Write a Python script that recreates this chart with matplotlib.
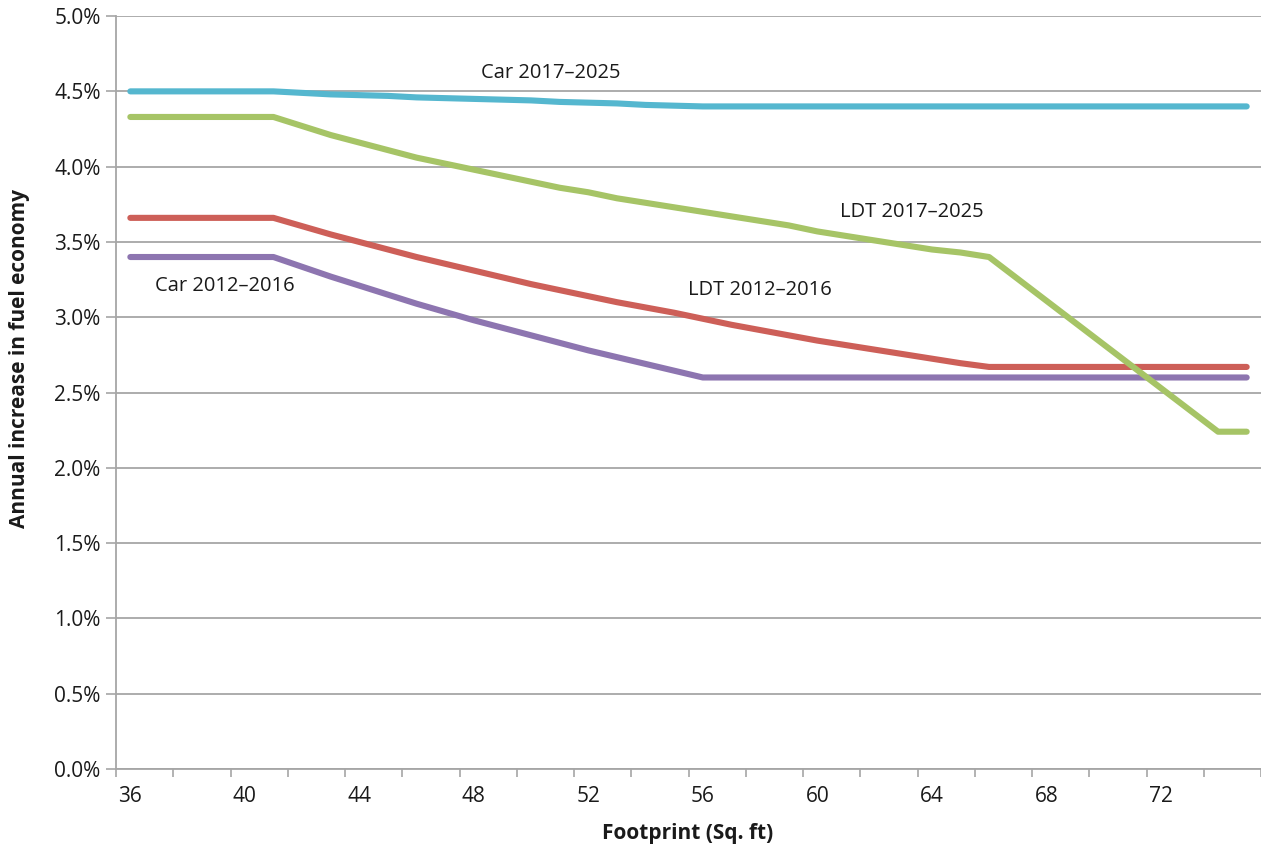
import matplotlib
matplotlib.use("Agg")
import matplotlib.pyplot as plt
import numpy as np
from matplotlib.ticker import FuncFormatter, FixedLocator

# footprint categories (sq ft)
footprint = list(range(36, 76))

car_2017_2025 = [4.50, 4.50, 4.50, 4.50, 4.50, 4.50, 4.49, 4.48, 4.475, 4.47,
                 4.46, 4.455, 4.45, 4.445, 4.44, 4.43, 4.425, 4.42, 4.41, 4.405,
                 4.40, 4.40, 4.40, 4.40, 4.40, 4.40, 4.40, 4.40, 4.40, 4.40,
                 4.40, 4.40, 4.40, 4.40, 4.40, 4.40, 4.40, 4.40, 4.40, 4.40]

ldt_2017_2025 = [4.33, 4.33, 4.33, 4.33, 4.33, 4.33, 4.27, 4.21, 4.16, 4.11,
                 4.06, 4.02, 3.98, 3.94, 3.90, 3.86, 3.83, 3.79, 3.76, 3.73,
                 3.70, 3.67, 3.64, 3.61, 3.57, 3.54, 3.51, 3.48, 3.45, 3.43,
                 3.40, 3.255, 3.11, 2.965, 2.82, 2.675, 2.53, 2.385, 2.24, 2.24]

ldt_2012_2016 = [3.66, 3.66, 3.66, 3.66, 3.66, 3.66, 3.605, 3.55, 3.50, 3.45,
                 3.40, 3.355, 3.31, 3.265, 3.22, 3.18, 3.14, 3.10, 3.065, 3.03,
                 2.99, 2.95, 2.915, 2.88, 2.845, 2.815, 2.785, 2.755, 2.725, 2.695,
                 2.67, 2.67, 2.67, 2.67, 2.67, 2.67, 2.67, 2.67, 2.67, 2.67]

car_2012_2016 = [3.40, 3.40, 3.40, 3.40, 3.40, 3.40, 3.335, 3.27, 3.21, 3.15,
                 3.09, 3.035, 2.98, 2.93, 2.88, 2.83, 2.78, 2.735, 2.69, 2.645,
                 2.60, 2.60, 2.60, 2.60, 2.60, 2.60, 2.60, 2.60, 2.60, 2.60,
                 2.60, 2.60, 2.60, 2.60, 2.60, 2.60, 2.60, 2.60, 2.60, 2.60]

x_labels = [36, 40, 44, 48, 52, 56, 60, 64, 68, 72]

plt.rcParams['font.family'] = ['Open Sans', 'DejaVu Sans']

fig = plt.figure(figsize=(12.61, 8.46), dpi=100)
ax = fig.add_axes([0.092, 0.091, 0.908, 0.890])

# grid first so lines sit on top
ax.set_ylim(0, 5.0)
ax.set_xlim(35.5, 75.5)
ax.set_yticks(np.arange(0, 5.01, 0.5))
ax.yaxis.grid(True, color='#a6a6a6', linewidth=1.3)
ax.set_axisbelow(True)

ax.plot(footprint, ldt_2012_2016, color='#cd5f58', lw=4.4, solid_capstyle='round')
ax.plot(footprint, car_2012_2016, color='#8d75b0', lw=4.4, solid_capstyle='round')
ax.plot(footprint, ldt_2017_2025, color='#a6c466', lw=4.4, solid_capstyle='round')
ax.plot(footprint, car_2017_2025, color='#55b7cf', lw=4.4, solid_capstyle='round')

# text labels on lines
lbl = dict(fontsize=14.5, color='#1a1a1a', ha='center', va='center')
ax.text(50.7, 4.62, 'Car 2017–2025', **lbl)
ax.text(63.3, 3.70, 'LDT 2017–2025', **lbl)
ax.text(58.0, 3.18, 'LDT 2012–2016', **lbl)
ax.text(39.3, 3.21, 'Car 2012–2016', **lbl)

# axes styling
for s in ['top', 'right']:
    ax.spines[s].set_visible(False)
for s in ['left', 'bottom']:
    ax.spines[s].set_color('#a6a6a6')
    ax.spines[s].set_linewidth(1.3)

ax.yaxis.set_major_formatter(FuncFormatter(lambda v, p: f'{v:.1f}%'))
ax.tick_params(axis='y', length=7, width=1.2, color='#a6a6a6', labelsize=15,
               labelcolor='#1a1a1a', pad=4)

ax.set_xticks(x_labels)
ax.tick_params(axis='x', which='major', length=0, labelsize=15, labelcolor='#1a1a1a', pad=12)
ax.xaxis.set_minor_locator(FixedLocator(np.arange(35.5, 75.6, 2)))
ax.tick_params(axis='x', which='minor', length=6, width=1.2, color='#a6a6a6')

# axis titles placed at the reference positions
fig.text(688 / 1261, 1 - 833 / 846, 'Footprint (Sq. ft)', fontsize=15, fontweight='bold',
         color='#1a1a1a', ha='center', va='center')
fig.text(20 / 1261, 1 - 358 / 846, 'Annual increase in fuel economy', fontsize=15,
         fontweight='bold', color='#1a1a1a', ha='center', va='center', rotation=90)

fig.savefig('out.png', dpi=100)
